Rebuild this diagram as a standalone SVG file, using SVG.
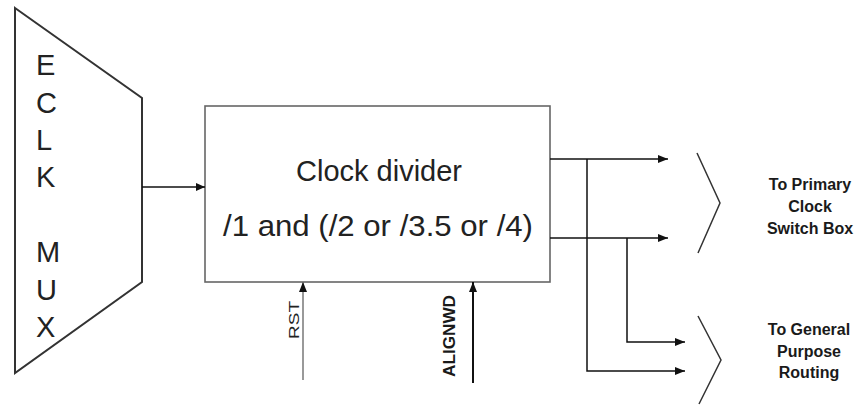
<svg xmlns="http://www.w3.org/2000/svg" width="866" height="406" viewBox="0 0 866 406">
<style>
.mux{fill:none;stroke:#333;stroke-width:2}
.box{fill:#fff;stroke:#666;stroke-width:1.6}
.w{fill:none;stroke:#111;stroke-width:1.5}
.g{fill:none;stroke:#777;stroke-width:1.5}
.br{fill:none;stroke:#333;stroke-width:1.5}
.big{font-family:"Liberation Sans",Arial,sans-serif;font-size:29px;fill:#222}
.lbl{font-family:"Liberation Sans",Arial,sans-serif;font-size:16px;font-weight:bold;fill:#1a1a1a;text-anchor:middle}
</style>
<defs>
<marker id="ah" markerWidth="10" markerHeight="8" refX="10" refY="4" orient="auto" markerUnits="userSpaceOnUse">
<path d="M0,0 L10,4 L0,8 Z" fill="#111"/>
</marker>
<marker id="ahs" markerWidth="9" markerHeight="8" refX="9" refY="4" orient="auto" markerUnits="userSpaceOnUse">
<path d="M0,0 L9,4 L0,8 Z" fill="#111"/>
</marker>
</defs>
<g id="mux">
<polygon class="mux" points="15,8 142,98 142,282 15,373"/>
<text class="big" x="36" y="75">E</text>
<text class="big" x="36" y="113">C</text>
<text class="big" x="36" y="150">L</text>
<text class="big" x="36" y="187">K</text>
<text class="big" x="36" y="262">M</text>
<text class="big" x="36" y="300">U</text>
<text class="big" x="36" y="337">X</text>
</g>
<g id="divider">
<rect class="box" x="205" y="106" width="345" height="176"/>
<text class="big" x="379" y="181" text-anchor="middle" font-size="31">Clock divider</text>
<text class="big" x="378" y="236" text-anchor="middle" font-size="31" textLength="310" lengthAdjust="spacingAndGlyphs">/1 and (/2 or /3.5 or /4)</text>
</g>
<g id="primary">
<polyline class="br" points="697,153 720,203 698,253"/>
<text class="lbl" x="810" y="190">To Primary</text>
<text class="lbl" x="810" y="212">Clock</text>
<text class="lbl" x="810" y="234">Switch Box</text>
</g>
<g id="general">
<polyline class="br" points="698,316 721,360 699,404"/>
<text class="lbl" x="809" y="335">To General</text>
<text class="lbl" x="809" y="357">Purpose</text>
<text class="lbl" x="809" y="378">Routing</text>
</g>
<g id="rst">
<text font-family="'Liberation Sans',Arial,sans-serif" font-size="15" fill="#222" transform="translate(299,339) rotate(-90)" textLength="38" lengthAdjust="spacingAndGlyphs">RST</text>
</g>
<g id="alignwd">
<text font-family="'Liberation Sans',Arial,sans-serif" font-size="16" font-weight="bold" fill="#1a1a1a" transform="translate(455,377) rotate(-90)" textLength="82" lengthAdjust="spacingAndGlyphs">ALIGNWD</text>
</g>
<g id="connectors">
<line class="w" x1="142" y1="187" x2="205" y2="187" marker-end="url(#ahs)"/>
<line class="w" x1="550" y1="159" x2="668" y2="159" marker-end="url(#ah)"/>
<line class="w" x1="550" y1="238" x2="668" y2="238" marker-end="url(#ah)"/>
<polyline class="w" points="587,159 587,371 685,371" marker-end="url(#ah)"/>
<polyline class="w" points="627,238 627,342 685,342" marker-end="url(#ah)"/>
<line class="g" x1="303" y1="380" x2="303" y2="282" marker-end="url(#ah)"/>
<line stroke="#111" stroke-width="2" x1="473" y1="383" x2="473" y2="282" marker-end="url(#ah)"/>
</g>
</svg>
